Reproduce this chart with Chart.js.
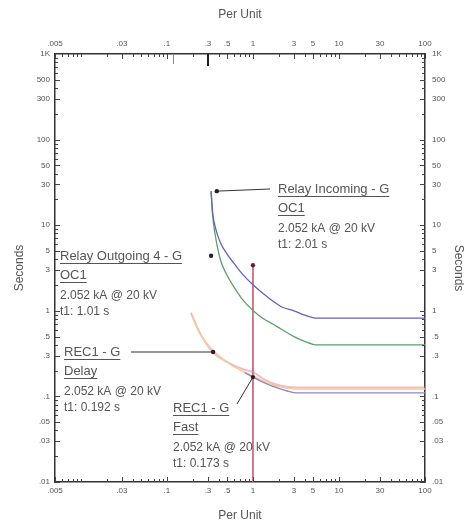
<!DOCTYPE html>
<html>
<head>
<meta charset="utf-8">
<script src="https://cdn.jsdelivr.net/npm/chart.js@4.4.1/dist/chart.umd.min.js"></script>
<style>
body { margin: 0; background: #fff; }
#wrap { width: 475px; height: 526px; position: relative; }
</style>
</head>
<body>
<div id="wrap"><canvas id="tcc"></canvas></div>
<script>
// axis ticks
const puTicks = [0.005, 0.03, 0.1, 0.3, 0.5, 1, 3, 5, 10, 30, 100];
const puLabels = ['.005', '.03', '.1', '.3', '.5', '1', '3', '5', '10', '30', '100'];
const secTicks = [0.01, 0.03, 0.05, 0.1, 0.3, 0.5, 1, 3, 5, 10, 30, 50, 100, 300, 500, 1000];
const secLabels = ['.01', '.03', '.05', '.1', '.3', '.5', '1', '3', '5', '10', '30', '50', '100', '300', '500', '1K'];

// Relay Incoming - G (blue)
const incomingPU = [0.326, 0.34, 0.37, 0.42, 0.5, 0.6, 0.75, 1, 1.3, 1.7, 2.2, 3, 4, 5.6, 100];
const incomingSec = [25, 14, 9, 6.2, 4.6, 3.6, 2.7, 2.01, 1.6, 1.3, 1.1, 1.0, 0.89, 0.82, 0.82];

// Relay Outgoing 4 - G (green)
const outgoingPU = [0.326, 0.34, 0.37, 0.42, 0.5, 0.6, 0.75, 1, 1.3, 1.7, 2.2, 3, 4, 5.6, 100];
const outgoingSec = [25, 13, 7, 3.9, 2.6, 1.9, 1.37, 1.01, 0.82, 0.7, 0.6, 0.5, 0.44, 0.4, 0.4];

// REC1 - G Delay (pink)
const delayPU = [0.19, 0.21, 0.24, 0.28, 0.34, 0.42, 0.55, 0.75, 1, 1.4, 2, 3.2, 100];
const delaySec = [0.95, 0.75, 0.56, 0.43, 0.33, 0.28, 0.24, 0.21, 0.192, 0.155, 0.135, 0.127, 0.127];

// REC1 - G Fast (orange)
const fastPU = [0.2, 0.24, 0.3, 0.4, 0.55, 0.75, 1, 1.4, 2, 3.2, 100];
const fastSec = [0.82, 0.55, 0.4, 0.3, 0.235, 0.198, 0.173, 0.148, 0.13, 0.122, 0.122];

// lower recloser curve (purple)
const lowPU = [0.8, 1, 1.4, 2, 3.2, 100];
const lowSec = [0.19, 0.168, 0.142, 0.124, 0.11, 0.11];

// fault current marker
const faultPU = [1, 1];
const faultSec = [3.4, 0.01];

// marks on the top axis
const topMarkPU = [0.118, 0.3];

// annotation anchor dots
const dotPU = [0.38, 0.326, 0.344, 1, 1];
const dotSec = [25, 4.4, 0.33, 0.168, 3.4];

const toPts = (xs, ys) => xs.map((x, i) => ({ x, y: ys[i] }));
const near = (a, b) => Math.abs(a - b) / b < 1e-6;
const labelOf = (ticks, labels, v) => {
  const i = ticks.findIndex(t => near(v, t));
  return i < 0 ? '' : labels[i];
};

const textColor = '#555';
const font = '"Liberation Sans", Arial, sans-serif';

function curve(label, xs, ys, color, width) {
  return {
    label, data: toPts(xs, ys), borderColor: color, borderWidth: width,
    pointRadius: 0, fill: false, cubicInterpolationMode: 'monotone',
    xAxisID: 'x', yAxisID: 'y'
  };
}

function axis(kind, position, size, pad, titlePad) {
  const isX = kind === 'x';
  return {
    type: 'logarithmic',
    position,
    display: true,
    min: isX ? 0.005 : 0.01,
    max: isX ? 100 : 1000,
    grid: { display: false, drawTicks: false },
    border: { display: true, color: '#333', width: 1.5 },
    afterBuildTicks: s => { s.ticks = (isX ? puTicks : secTicks).map(v => ({ value: v })); },
    afterFit: s => { if (isX) s.height = size; else s.width = size; },
    ticks: {
      autoSkip: false, maxRotation: 0, minRotation: 0, padding: pad,
      color: textColor, font: { size: 8, family: font },
      callback: v => isX ? labelOf(puTicks, puLabels, v) : labelOf(secTicks, secLabels, v)
    },
    title: {
      display: true, text: isX ? 'Per Unit' : 'Seconds', color: textColor,
      font: { size: 12, family: font }, padding: titlePad
    }
  };
}

// inner tick marks on all four sides
function drawTickMarks(chart) {
  const { ctx, chartArea: a, scales } = chart;
  ctx.save();
  ctx.strokeStyle = '#444';
  ctx.lineWidth = 1;
  ctx.beginPath();
  for (let d = -3; d <= 2; d++) {
    for (let m = 1; m <= 9; m++) {
      const v = m * Math.pow(10, d);
      if (v >= 0.005 * 0.999 && v <= 100 * 1.001) {
        const px = Math.round(scales.x.getPixelForValue(v)) + 0.5;
        const len = puTicks.some(t => near(v, t)) ? 5 : 3;
        ctx.moveTo(px, a.top); ctx.lineTo(px, a.top + len);
        ctx.moveTo(px, a.bottom); ctx.lineTo(px, a.bottom - len);
      }
      if (v >= 0.01 * 0.999 && v <= 1000 * 1.001) {
        const py = Math.round(scales.y.getPixelForValue(v)) + 0.5;
        const len = secTicks.some(t => near(v, t)) ? 5 : 3;
        ctx.moveTo(a.left, py); ctx.lineTo(a.left + len, py);
        ctx.moveTo(a.right, py); ctx.lineTo(a.right - len, py);
      }
    }
  }
  ctx.stroke();
  // top axis marks
  let px = Math.round(scales.x.getPixelForValue(topMarkPU[0])) + 0.5;
  ctx.strokeStyle = '#e06060';
  ctx.beginPath(); ctx.moveTo(px, a.top); ctx.lineTo(px, a.top + 10); ctx.stroke();
  px = Math.round(scales.x.getPixelForValue(topMarkPU[1]));
  ctx.strokeStyle = '#222'; ctx.lineWidth = 2;
  ctx.beginPath(); ctx.moveTo(px, a.top); ctx.lineTo(px, a.top + 12); ctx.stroke();
  ctx.restore();
}

// callout texts (pixel layout) tied to the anchor dots
const callouts = [
  { dot: 0, x: 278, y: 189, from: [270, 189], lines: [['Relay Incoming - G', true], ['OC1', true], ['2.052 kA @ 20 kV', false], ['t1: 2.01 s', false]] },
  { dot: 1, x: 60, y: 256, from: null, lines: [['Relay Outgoing 4 - G', true], ['OC1', true], ['2.052 kA @ 20 kV', false], ['t1: 1.01 s', false]] },
  { dot: 2, x: 64, y: 352, from: [131, 352], lines: [['REC1 - G', true], ['Delay', true], ['2.052 kA @ 20 kV', false], ['t1: 0.192 s', false]] },
  { dot: 3, x: 173, y: 408, from: [237, 404], lines: [['REC1 - G', true], ['Fast', true], ['2.052 kA @ 20 kV', false], ['t1: 0.173 s', false]] }
];
const lineGaps = [0, 19, 40, 56];

function drawCallouts(chart) {
  const { ctx, scales } = chart;
  ctx.save();
  ctx.textBaseline = 'middle';
  ctx.textAlign = 'left';
  callouts.forEach(c => {
    const dx = scales.x.getPixelForValue(dotPU[c.dot]);
    const dy = scales.y.getPixelForValue(dotSec[c.dot]);
    ctx.strokeStyle = '#333'; ctx.lineWidth = 1;
    if (c.from) {
      ctx.beginPath(); ctx.moveTo(c.from[0], c.from[1]); ctx.lineTo(dx, dy); ctx.stroke();
    }
    ctx.fillStyle = '#222';
    ctx.beginPath(); ctx.arc(dx, dy, 2.2, 0, Math.PI * 2); ctx.fill();
    c.lines.forEach(([t, u], i) => {
      ctx.font = (i < 2 ? '13px ' : '12px ') + font;
      ctx.fillStyle = textColor;
      const y = c.y + lineGaps[i];
      ctx.fillText(t, c.x, y);
      if (u) {
        const w = ctx.measureText(t).width;
        ctx.strokeStyle = textColor;
        ctx.beginPath(); ctx.moveTo(c.x, y + 7.5); ctx.lineTo(c.x + w, y + 7.5); ctx.stroke();
      }
    });
  });
  // dot at top of fault marker
  ctx.fillStyle = '#6a2030';
  ctx.beginPath();
  ctx.arc(scales.x.getPixelForValue(dotPU[4]), scales.y.getPixelForValue(dotSec[4]), 2.2, 0, Math.PI * 2);
  ctx.fill();
  ctx.restore();
}

new Chart(document.getElementById('tcc'), {
  type: 'line',
  data: {
    datasets: [
      curve('Relay Incoming - G', incomingPU, incomingSec, '#6464b4', 1.3),
      curve('Relay Outgoing 4 - G', outgoingPU, outgoingSec, '#5f9e6e', 1.3),
      curve('Lower', lowPU, lowSec, '#9484c4', 1.3),
      curve('REC1 - G Fast', fastPU, fastSec, '#f4cc98', 1.5),
      curve('REC1 - G Delay', delayPU, delaySec, 'rgba(228,120,145,0.5)', 2),
      { label: 'Fault', data: toPts(faultPU, faultSec), borderColor: '#c46a7c', borderWidth: 1,
        pointRadius: 0, tension: 0, xAxisID: 'x', yAxisID: 'y' }
    ]
  },
  options: {
    responsive: true,
    maintainAspectRatio: false,
    animation: false,
    parsing: true,
    layout: { padding: 0 },
    plugins: { legend: { display: false }, tooltip: { enabled: false } },
    scales: {
      x: axis('x', 'bottom', 44, 4, { top: 0, bottom: 3 }),
      x2: axis('x', 'top', 54, 5, { top: 7, bottom: 0 }),
      y: axis('y', 'left', 55, 5, { top: 12, bottom: 0 }),
      y2: axis('y', 'right', 50, 7, { top: 9, bottom: 0 })
    }
  },
  plugins: [{
    id: 'tccDecor',
    afterDatasetsDraw: chart => { drawTickMarks(chart); drawCallouts(chart); }
  }]
});
</script>
</body>
</html>
